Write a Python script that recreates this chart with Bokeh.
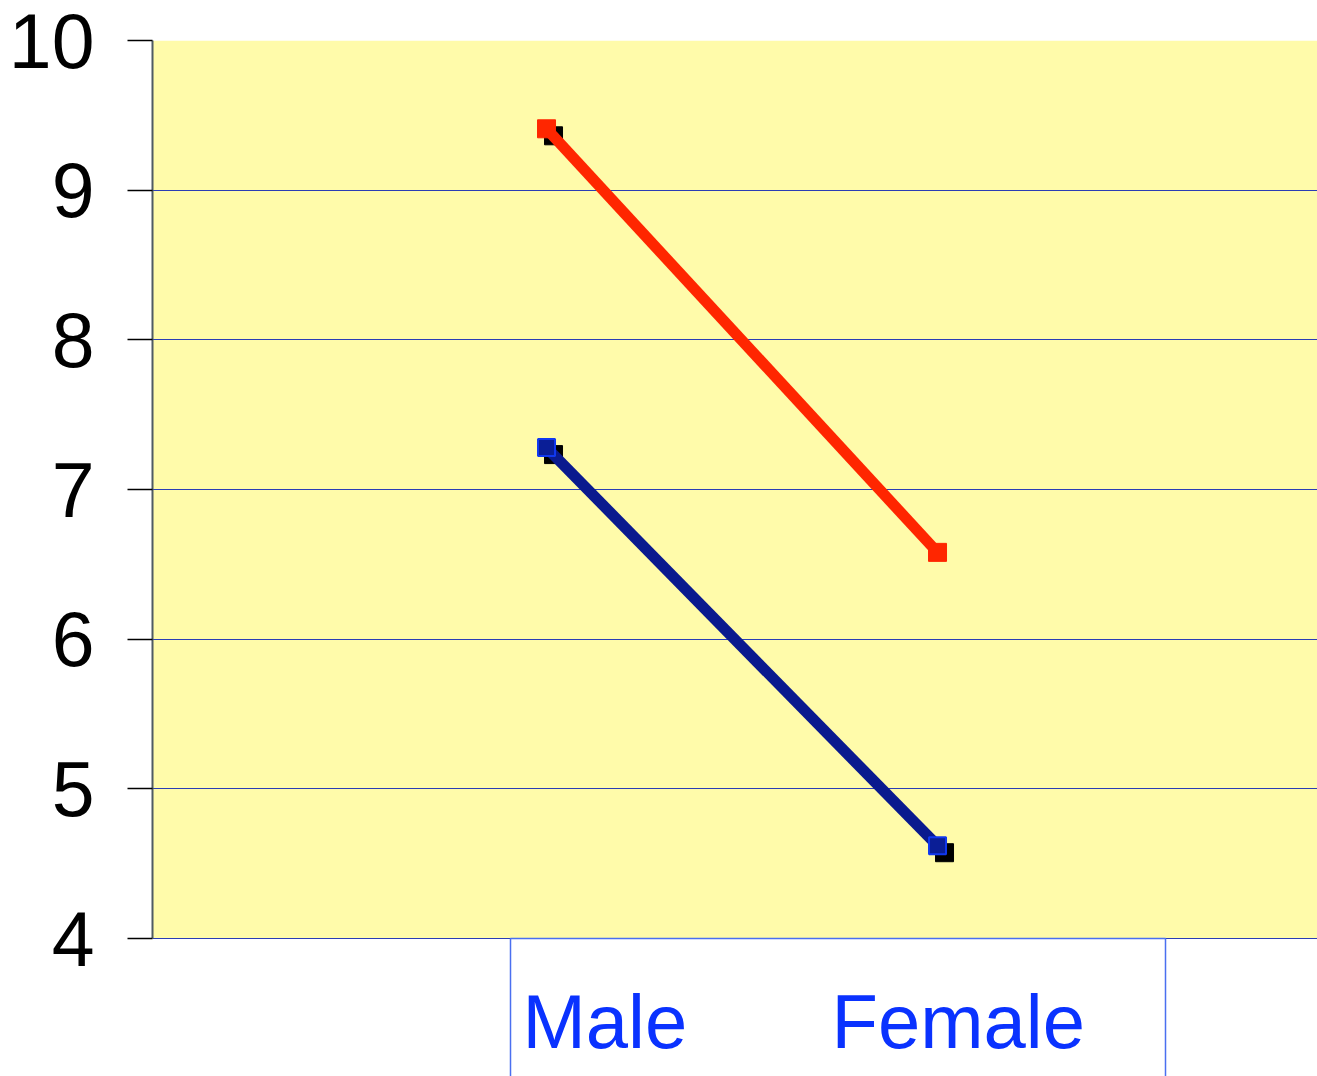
from bokeh.plotting import figure
from bokeh.models import Range1d, FixedTicker, BoxAnnotation, LinearAxis
from bokeh.core.properties import value
from bokeh.embed import file_html
from bokeh.resources import INLINE

# ---- data ----
categories = ["Male", "Female"]
cat_pos = [1, 2]
series_red = [9.41, 6.58]
series_blue = [7.28, 4.62]
y_ticks = [4, 5, 6, 7, 8, 9, 10]
shadow_red = [True, False]
shadow_blue = [True, True]

# ---- layout ----
FW, FH = 1165, 1036
x0, x1 = -0.0077, 2.9718
px_y = 898 / 6
y1 = 10
y0 = y1 - FH / px_y
px_x = FW / (x1 - x0)

p = figure(width=1317, height=1076, frame_width=FW, frame_height=FH,
           x_range=Range1d(x0, x1), y_range=Range1d(y0, y1),
           output_backend="svg", toolbar_location=None,
           x_axis_location=None, y_axis_location=None,
           min_border_left=152, min_border_top=40, min_border_right=0, min_border_bottom=0)
p.outline_line_color = None
p.background_fill_color = "white"
p.border_fill_color = "white"
p.xgrid.visible = False

yax = LinearAxis(ticker=FixedTicker(ticks=y_ticks), bounds=(min(y_ticks), max(y_ticks)))
yax.major_label_text_font = "Liberation Sans"
yax.major_label_text_font_size = "77px"
yax.major_label_text_color = "black"
yax.major_label_standoff = 33
yax.major_tick_out = 25
yax.major_tick_in = 0
yax.minor_tick_out = 0
yax.minor_tick_in = 0
yax.major_tick_line_color = "black"
yax.major_tick_line_width = 1.5
yax.axis_line_color = "#4f5a63"
yax.axis_line_width = 2
p.add_layout(yax, "left")

p.ygrid.ticker = FixedTicker(ticks=y_ticks)
p.ygrid.grid_line_color = "#2a3db5"
p.ygrid.grid_line_width = 1

bg = BoxAnnotation(bottom=min(y_ticks), top=max(y_ticks), fill_color="#fffbaa", fill_alpha=1,
                   line_color=None, level="image")
p.add_layout(bg)

# category label box
box_left = x0 + (510 - 152) / px_x
box_right = x0 + (1165 - 152) / px_x
p.quad(left=[box_left], right=[box_right], top=[min(y_ticks)], bottom=[y0 - 1],
       fill_color=None, line_color="#4a6ff0", line_width=1.5)

label_x = [x0 + (522 - 152) / px_x, x0 + (831 - 152) / px_x]
label_y = [min(y_ticks) - (1021 - 938) / px_y] * 2
p.text(x=label_x, y=label_y, text=categories, text_font=value("Liberation Sans"),
       text_font_size="76px", text_color="#0a32ff", text_align="left", text_baseline="alphabetic")

dx = 7 / px_x
dy = 7 / px_y

def shadows(vals, flags):
    xs = [c + dx for c, f in zip(cat_pos, flags) if f]
    ys = [v - dy for v, f in zip(vals, flags) if f]
    return xs, ys

sx, sy = shadows(series_red, shadow_red)
p.scatter(sx, sy, marker="square", size=18, fill_color="black", line_color="black")
sx, sy = shadows(series_blue, shadow_blue)
p.scatter(sx, sy, marker="square", size=18, fill_color="black", line_color="black")

p.line(cat_pos, series_red, line_color="#ff2600", line_width=11)
p.line(cat_pos, series_blue, line_color="#0a1a8e", line_width=11)

p.scatter(cat_pos, series_red, marker="square", size=18, fill_color="#ff2600", line_color="#ff2600")
p.scatter(cat_pos, series_blue, marker="square", size=17, fill_color="#0a1e96", line_color="#1038f0", line_width=2)

open("out.html", "w").write(file_html(p, INLINE))
